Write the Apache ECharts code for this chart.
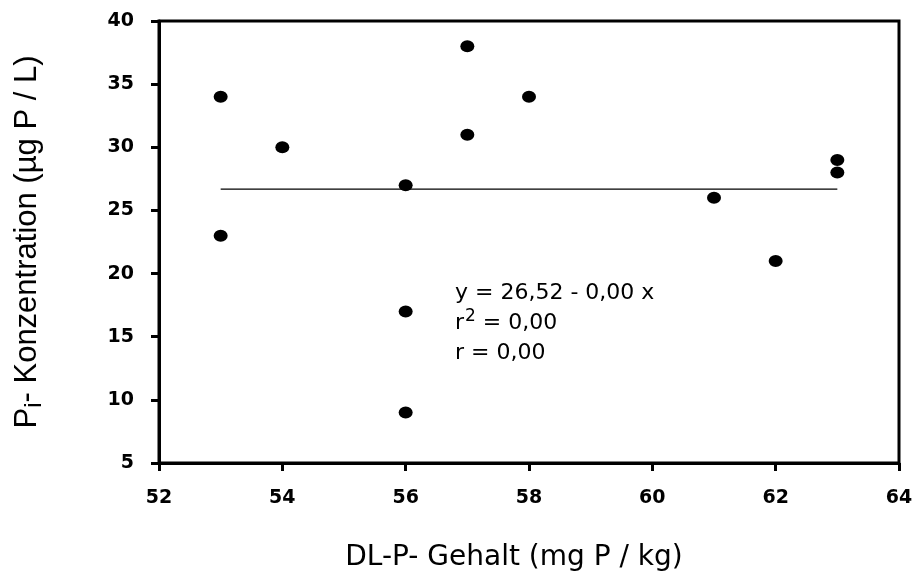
<!DOCTYPE html>
<html>
<head>
<meta charset="utf-8">
<script src="https://cdn.jsdelivr.net/npm/echarts@6/dist/echarts.min.js"></script>
<style>html,body{margin:0;padding:0;background:#fff}#c{width:917px;height:579px}</style>
</head>
<body>
<div id="c"></div>
<script>
// Data
const xValues = [53, 53, 54, 56, 56, 56, 57, 57, 58, 61, 62, 63, 63];
const yValues = [34, 23, 30, 27, 17, 9, 38, 31, 34, 26, 21, 29, 28];
const fitX = [53, 63];
const fitY = [26.69, 26.69];
const xTicks = [52, 54, 56, 58, 60, 62, 64];
const yTicks = [5, 10, 15, 20, 25, 30, 35, 40];
const eqLines = ['y = 26,52 - 0,00 x', '0,00', 'r = 0,00'];

const chart = echarts.init(document.getElementById('c'));
const F = '"Liberation Sans", Arial, sans-serif';
const D = '"DejaVu Sans", sans-serif';
chart.setOption({
  animation: false,
  backgroundColor: '#fff',
  grid: { left: 159, right: 18, top: 21, bottom: 116, show: true, borderColor: '#000', borderWidth: 3 },
  xAxis: {
    type: 'value', min: xTicks[0], max: xTicks[xTicks.length - 1], interval: 2,
    axisLine: { lineStyle: { color: '#000', width: 3 } },
    axisTick: { length: 8, lineStyle: { color: '#000', width: 3 } },
    splitLine: { show: false },
    axisLabel: { margin: 26, color: '#000', fontFamily: D, fontWeight: 'bold', fontSize: 19 },
    name: 'DL-P- Gehalt (mg P / kg)', nameLocation: 'middle', nameGap: 81,
    nameTextStyle: { color: '#000', fontFamily: D, fontSize: 28, padding: [0, 30, 0, 0] }
  },
  yAxis: {
    type: 'value', min: yTicks[0], max: yTicks[yTicks.length - 1], interval: 5,
    axisLine: { lineStyle: { color: '#000', width: 3 } },
    axisTick: { length: 8, lineStyle: { color: '#000', width: 3 } },
    splitLine: { show: false },
    axisLabel: { margin: 25, color: '#000', fontFamily: D, fontWeight: 'bold', fontSize: 19 },
    name: 'P{sub|i}- Konzentration (µg P / L)', nameLocation: 'middle', nameGap: 113,
    nameTextStyle: {
      color: '#000', fontFamily: F, fontSize: 31,
      rich: { sub: { fontFamily: F, fontSize: 24, color: '#000', padding: [13, 0, 0, 0] } }
    }
  },
  graphic: [{
    type: 'text', left: 455, top: 282,
    style: {
      text: '{t|' + eqLines[0] + '}\n{t|r}{s|2}{t| = ' + eqLines[1] + '}\n{t|' + eqLines[2] + '}',
      fill: '#000',
      rich: {
        t: { fontFamily: D, fontSize: 22, lineHeight: 30, fill: '#000', color: '#000' },
        s: { fontFamily: D, fontSize: 17, lineHeight: 30, verticalAlign: 'top', fill: '#000', color: '#000', padding: [0, 0, 10, 1] }
      }
    }
  }],
  series: [
    {
      type: 'line', data: fitX.map((x, i) => [x, fitY[i]]), symbol: 'none',
      lineStyle: { color: '#000', width: 1.2 }, z: 1
    },
    {
      type: 'scatter', data: xValues.map((x, i) => [x, yValues[i]]),
      symbol: 'circle', symbolSize: [14, 12], itemStyle: { color: '#000', opacity: 1 }, z: 2
    }
  ]
});
</script>
</body>
</html>
